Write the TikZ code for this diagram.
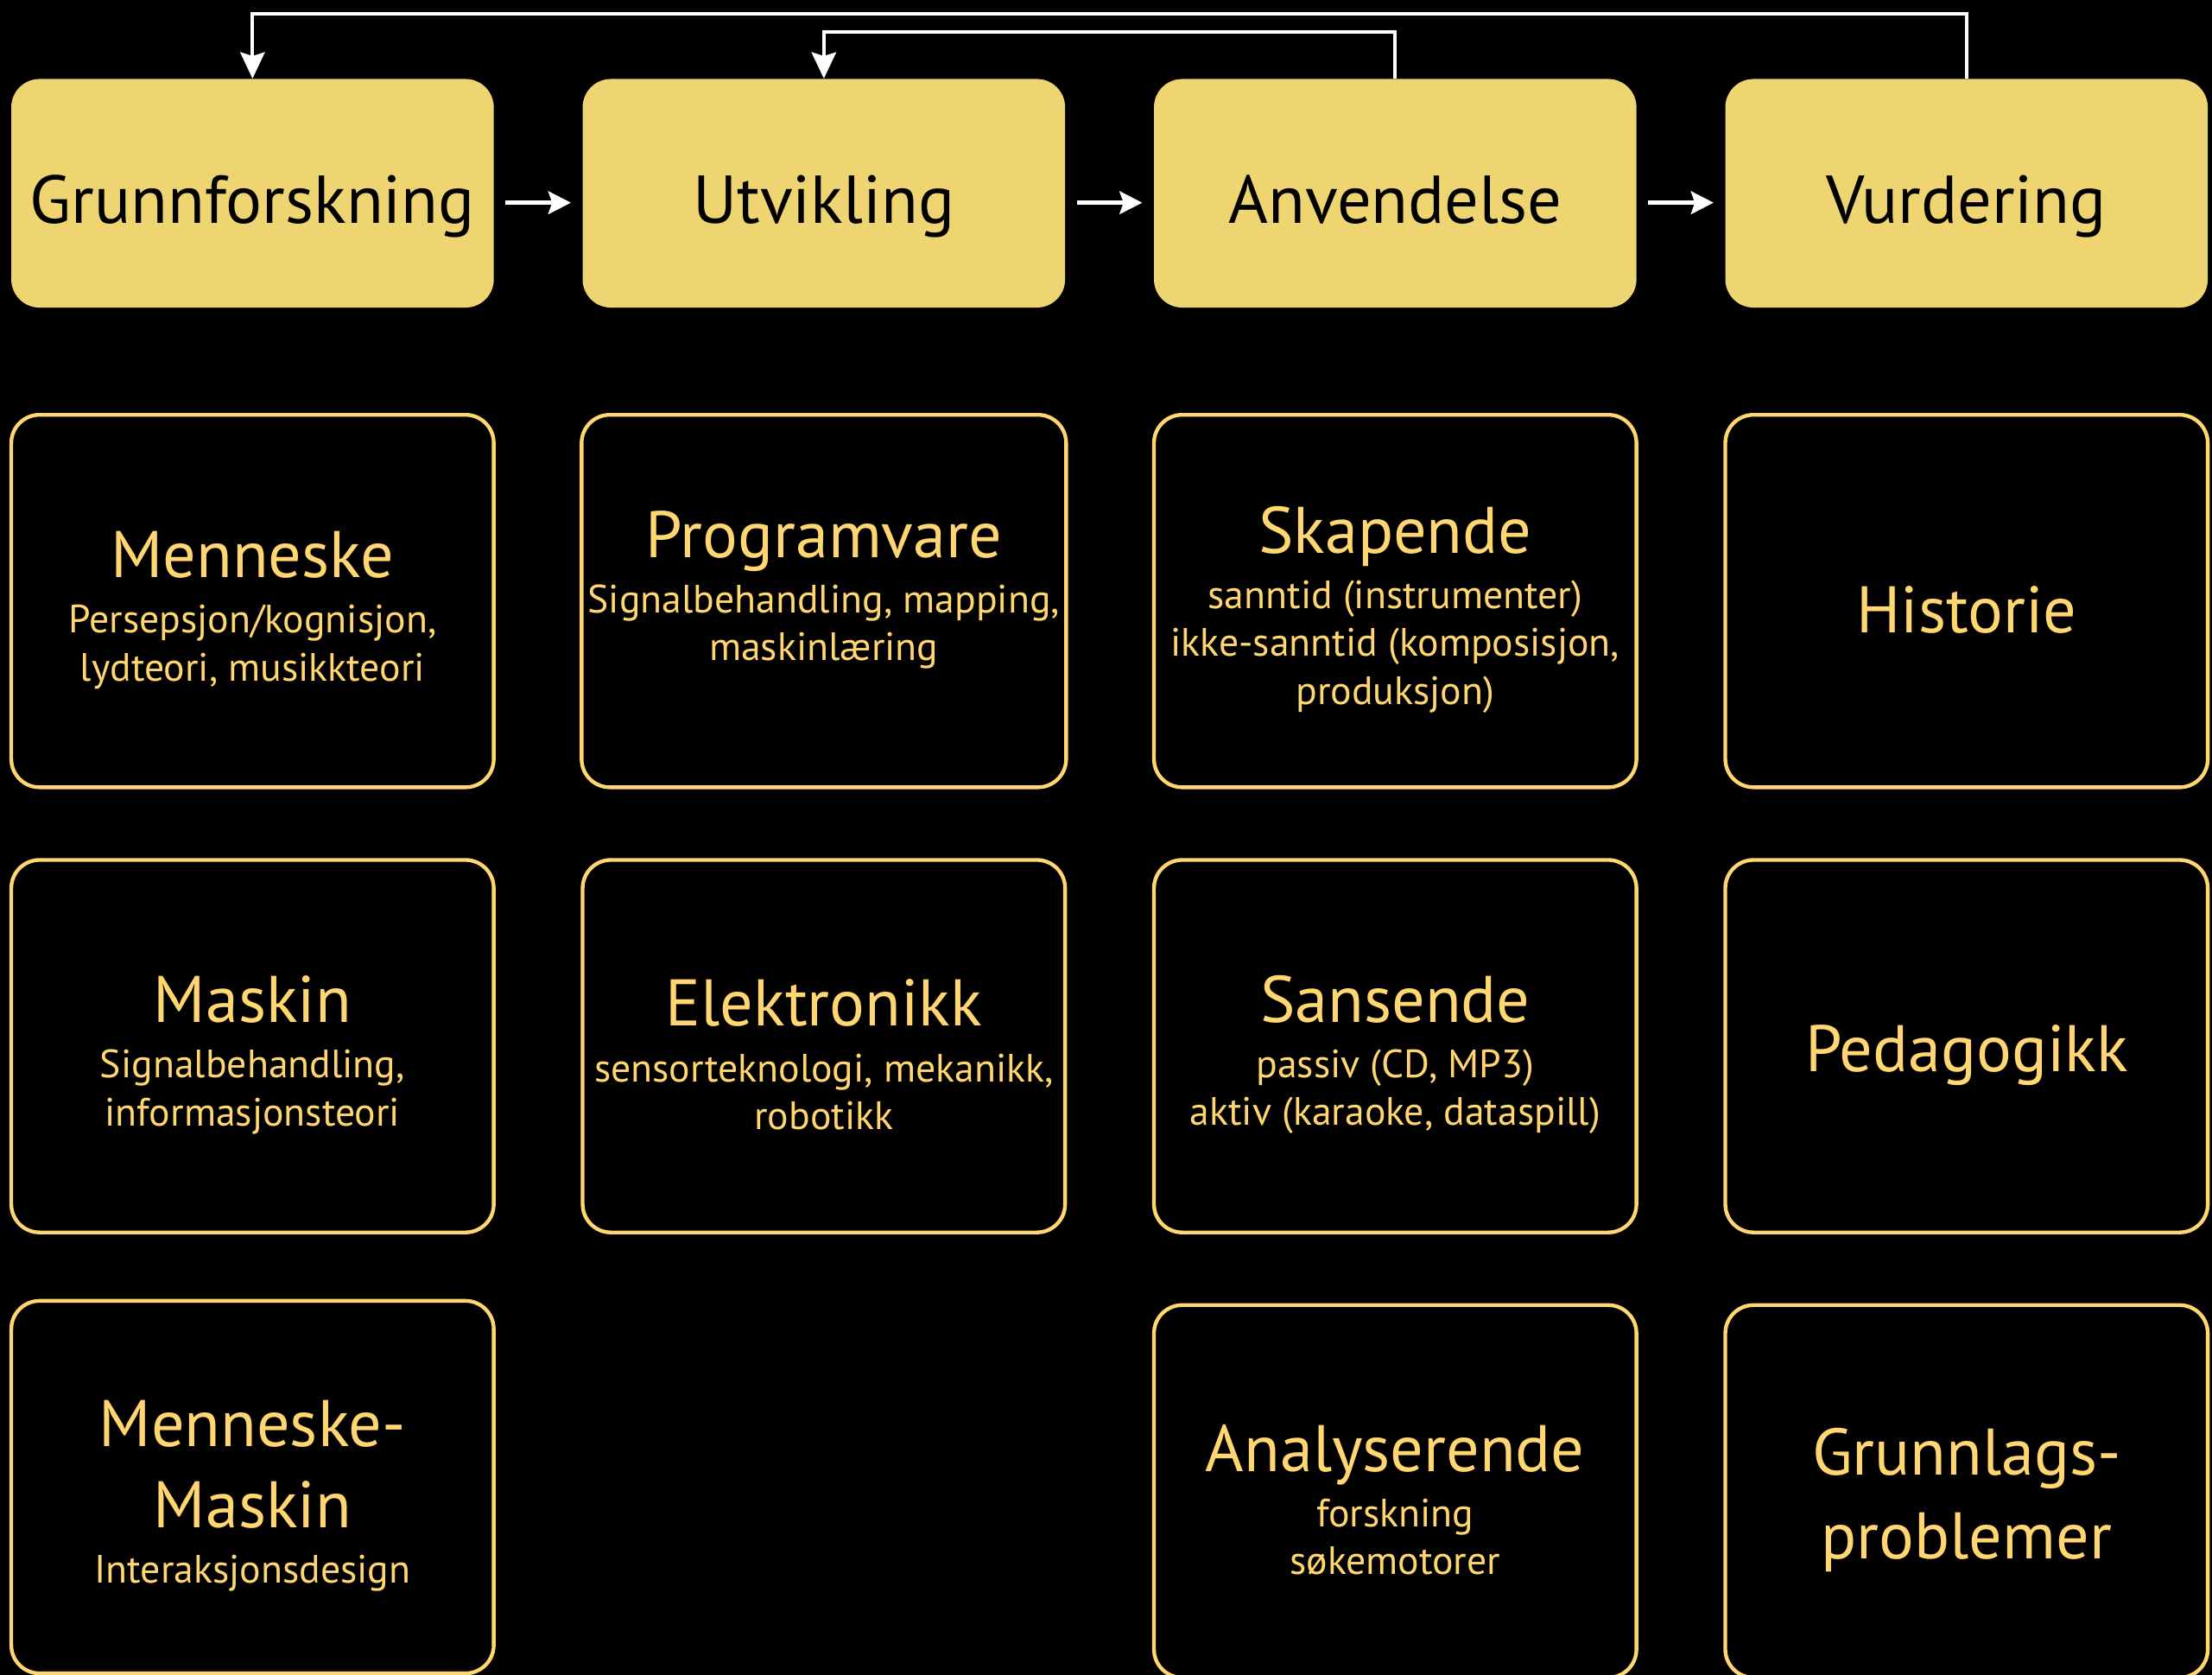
\documentclass[tikz,border=0pt]{standalone}
\usepackage{fontspec}
\setmainfont{PT Sans}
\usetikzlibrary{arrows.meta,positioning}
\definecolor{gold}{RGB}{255,214,112}
\definecolor{paper}{RGB}{239,213,114}

\tikzset{
	stage/.style={rectangle, rounded corners=15pt, fill=paper, minimum width=256.5pt, minimum height=121.5pt, text height=33pt, text depth=1.5pt, text=black, font=\fontsize{36}{43}\selectfont},
	field/.style={rectangle, rounded corners=15pt, draw=gold, line width=2pt, minimum width=256.5pt, minimum height=198pt, align=center, text=gold, font=\fontsize{21}{25.5}\selectfont},
	flow/.style={draw=white, line width=2.4pt, -{Stealth[length=12pt,width=12pt,inset=2pt]}},
	back/.style={draw=white, line width=1.8pt, -{Stealth[length=14pt,width=13pt,inset=2pt]}},
}
\newcommand{\hd}[1]{{\fontsize{35}{43}\selectfont\rule{0pt}{34pt}#1}}

\begin{document}
\begin{tikzpicture}[x=0.75pt,y=0.75pt,yscale=-1,xscale=1]
	\useasboundingbox (0,0) rectangle (1568,1187);
	\fill[black] (0,0) rectangle (1568,1187);
	
	%Stages
	\node[stage] (grunn) at (179,137) {Grunnforskning};
	\node[stage] (utv) at (584,137) {Utvikling};
	\node[stage] (anv) at (989,137) {Anvendelse};
	\node[stage] (vurd) at (1394,137) {Vurdering};
	
	%Stage arrows
	\draw[flow, shorten <=6pt, shorten >=6pt] ([yshift=5pt]grunn.east) -- ([yshift=5pt]utv.west);
	\draw[flow, shorten <=6pt, shorten >=6pt] ([yshift=5pt]utv.east) -- ([yshift=5pt]anv.west);
	\draw[flow, shorten <=6pt, shorten >=6pt] ([yshift=5pt]anv.east) -- ([yshift=5pt]vurd.west);
	
	%Feedback lines
	\draw[back] (vurd.north) -- ++(0,-46) -| (grunn.north);
	\draw[back] (anv.north) -- ++(0,-33) -| (utv.north);
	
	%Column 1
	\node[field] (menneske) at (179,426) {\hd{Menneske}\\[4pt]Persepsjon/kognisjon,\\lydteori, musikkteori};
	\node[field] (maskin) at (179,741.5) {\hd{Maskin}\\[4pt]Signalbehandling,\\informasjonsteori};
	\node[field] (mm) at (179,1054) {\hd{Menneske-}\\[7.5pt]\hd{Maskin}\\[4pt]Interaksjonsdesign};
	
	%Column 2
	\node[field] (prog) at (584,426) {\hd{Programvare}\\[4pt]Signalbehandling, mapping,\\maskinlæring\\\mbox{}};
	\node[field] (elek) at (584,741.5) {\hd{Elektronikk}\\[4pt]sensorteknologi, mekanikk,\\robotikk};
	
	%Column 3
	\node[field] (skap) at (989,426) {\hd{Skapende}\\[4pt]sanntid (instrumenter)\\ikke-sanntid (komposisjon,\\produksjon)};
	\node[field] (sans) at (989,741.5) {\hd{Sansende}\\[4pt]passiv (CD, MP3)\\aktiv (karaoke, dataspill)};
	\node[field] (anal) at (989,1057) {\hd{Analyserende}\\[4pt]forskning\\søkemotorer};
	
	%Column 4
	\node[field] (hist) at (1394,426) {\hd{Historie}};
	\node[field] (ped) at (1394,741.5) {\hd{Pedagogikk}};
	\node[field] (problem) at (1394,1057) {\hd{Grunnlags-}\\[2pt]\hd{problemer}};
	
\end{tikzpicture}
\end{document}
